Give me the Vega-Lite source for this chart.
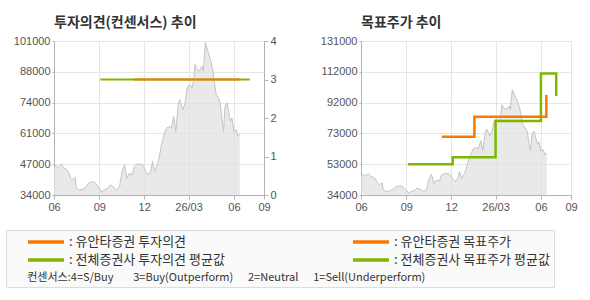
{
  "$schema": "https://vega.github.io/schema/vega-lite/v6.json",
  "padding": {"left": 5, "top": 15, "right": 5, "bottom": 2},
  "datasets": {
    "price": [
      {"date": "2025-06-01", "price": 45650}, {"date": "2025-06-04", "price": 47100}, {"date": "2025-06-08", "price": 45900},
      {"date": "2025-06-11", "price": 46400}, {"date": "2025-06-16", "price": 47400}, {"date": "2025-06-21", "price": 45650},
      {"date": "2025-06-28", "price": 44900}, {"date": "2025-07-05", "price": 41300}, {"date": "2025-07-08", "price": 40550},
      {"date": "2025-07-14", "price": 41600}, {"date": "2025-07-16", "price": 37200}, {"date": "2025-07-22", "price": 36200},
      {"date": "2025-07-29", "price": 36500}, {"date": "2025-08-04", "price": 37200}, {"date": "2025-08-10", "price": 39100},
      {"date": "2025-08-18", "price": 39800}, {"date": "2025-08-23", "price": 39500}, {"date": "2025-08-28", "price": 38100},
      {"date": "2025-09-02", "price": 36600}, {"date": "2025-09-06", "price": 35200}, {"date": "2025-09-11", "price": 36200},
      {"date": "2025-09-18", "price": 36900}, {"date": "2025-09-23", "price": 38400}, {"date": "2025-09-29", "price": 37600},
      {"date": "2025-10-06", "price": 36200}, {"date": "2025-10-12", "price": 37600}, {"date": "2025-10-17", "price": 44200},
      {"date": "2025-10-22", "price": 47100}, {"date": "2025-10-27", "price": 41300}, {"date": "2025-11-01", "price": 43500},
      {"date": "2025-11-07", "price": 42700}, {"date": "2025-11-11", "price": 46400}, {"date": "2025-11-16", "price": 47400},
      {"date": "2025-11-22", "price": 47500}, {"date": "2025-11-28", "price": 47100}, {"date": "2025-12-04", "price": 44200},
      {"date": "2025-12-09", "price": 42700}, {"date": "2025-12-14", "price": 44200}, {"date": "2025-12-18", "price": 48600},
      {"date": "2025-12-22", "price": 44200}, {"date": "2025-12-27", "price": 47100}, {"date": "2025-12-31", "price": 50000},
      {"date": "2026-01-05", "price": 55800}, {"date": "2026-01-10", "price": 60200}, {"date": "2026-01-15", "price": 63100},
      {"date": "2026-01-21", "price": 63900}, {"date": "2026-01-25", "price": 63100}, {"date": "2026-01-30", "price": 68200},
      {"date": "2026-02-03", "price": 61700}, {"date": "2026-02-08", "price": 73300}, {"date": "2026-02-11", "price": 75500},
      {"date": "2026-02-17", "price": 71100}, {"date": "2026-02-22", "price": 74100}, {"date": "2026-02-26", "price": 80600},
      {"date": "2026-03-03", "price": 82100}, {"date": "2026-03-08", "price": 80600}, {"date": "2026-03-11", "price": 83500},
      {"date": "2026-03-14", "price": 90800}, {"date": "2026-03-18", "price": 88600}, {"date": "2026-03-23", "price": 87900},
      {"date": "2026-03-28", "price": 90100}, {"date": "2026-03-31", "price": 87900}, {"date": "2026-04-04", "price": 100300},
      {"date": "2026-04-07", "price": 98100}, {"date": "2026-04-10", "price": 95900}, {"date": "2026-04-15", "price": 92300},
      {"date": "2026-04-19", "price": 88600}, {"date": "2026-04-22", "price": 83500}, {"date": "2026-04-26", "price": 77700},
      {"date": "2026-05-01", "price": 76200}, {"date": "2026-05-04", "price": 74100}, {"date": "2026-05-07", "price": 68200},
      {"date": "2026-05-11", "price": 61700}, {"date": "2026-05-14", "price": 72600}, {"date": "2026-05-18", "price": 74100},
      {"date": "2026-05-21", "price": 70400}, {"date": "2026-05-25", "price": 66000}, {"date": "2026-05-28", "price": 67500},
      {"date": "2026-06-01", "price": 61700}, {"date": "2026-06-06", "price": 62400}, {"date": "2026-06-09", "price": 59500},
      {"date": "2026-06-13", "price": 60200}
    ],
    "opinion": [
      {"series": ": 전체증권사 투자의견 평균값", "date": "2025-09-03", "value": 3},
      {"series": ": 전체증권사 투자의견 평균값", "date": "2026-07-03", "value": 3},
      {"series": ": 유안타증권 투자의견", "date": "2025-11-11", "value": 3},
      {"series": ": 유안타증권 투자의견", "date": "2026-06-13", "value": 3}
    ],
    "target": [
      {"series": ": 전체증권사 목표주가 평균값", "date": "2025-09-04", "value": 53300},
      {"series": ": 전체증권사 목표주가 평균값", "date": "2025-12-04", "value": 57700},
      {"series": ": 전체증권사 목표주가 평균값", "date": "2026-03-01", "value": 80600},
      {"series": ": 전체증권사 목표주가 평균값", "date": "2026-06-01", "value": 110600},
      {"series": ": 전체증권사 목표주가 평균값", "date": "2026-07-02", "value": 96400},
      {"series": ": 유안타증권 목표주가", "date": "2025-11-12", "value": 70700},
      {"series": ": 유안타증권 목표주가", "date": "2026-01-17", "value": 83300},
      {"series": ": 유안타증권 목표주가", "date": "2026-06-12", "value": 97000}
    ]
  },
  "config": {
    "view": {"stroke": "#b4b4b4", "strokeWidth": 1},
    "axis": {
      "labelFont": "Liberation Sans", "labelFontSize": 11, "labelColor": "#555555",
      "domainColor": "#b4b4b4", "tickColor": "#b4b4b4", "gridColor": "#e6e6e6",
      "tickSize": 4, "labelPadding": 2
    },
    "axisLeft": {"tickSize": 2, "labelPadding": 2},
    "title": {"font": "Noto Sans CJK KR", "fontSize": 14, "fontWeight": "bold", "anchor": "start", "frame": "group", "color": "#333333", "offset": 5},
    "legend": {
      "columns": 2,
      "columnPadding": 110,
      "gridAlign": "all",
      "symbolType": "M-1,0H5",
      "symbolSize": 144,
      "symbolStrokeWidth": 3.5,
      "symbolOffset": 16,
      "labelFont": "Noto Sans CJK KR", "labelFontSize": 13, "labelColor": "#333333", "labelOffset": 27, "labelLimit": 320,
      "labelExpr": "datum.label + '\u00a0\u00a0\u00a0\u200b'",
      "fillColor": "#fafafa", "strokeColor": "#dddddd",
      "padding": 4,
      "rowPadding": 3,
      "titleOrient": "bottom", "titleFont": "Noto Sans CJK KR", "titleFontWeight": "normal", "titleFontSize": 11,
      "titleColor": "#333333", "titlePadding": 5, "titleLimit": 600
    }
  },
  "spacing": 42,
  "hconcat": [
    {
      "title": "투자의견(컨센서스) 추이",
      "width": 210, "height": 154,
      "layer": [
        {
          "data": {"name": "price"},
          "mark": {"type": "area", "clip": true, "color": "#e0e0e0", "line": {"color": "#c4c4c4", "strokeWidth": 1}},
          "encoding": {
            "x": {"field": "date", "type": "temporal",
              "scale": {"domain": [{"year": 2025, "month": 6, "date": 1}, {"year": 2026, "month": 8, "date": 1}]},
              "axis": {"title": null, "grid": true,
                "values": [{"year": 2025, "month": 6, "date": 1}, {"year": 2025, "month": 9, "date": 1}, {"year": 2025, "month": 12, "date": 1}, {"year": 2026, "month": 3, "date": 1}, {"year": 2026, "month": 6, "date": 1}, {"year": 2026, "month": 8, "date": 1}],
                "labelExpr": "month(datum.value) == 2 ? '26/03' : (month(datum.value) == 7 ? '09' : timeFormat(datum.value, '%m'))",
                "labelFlush": false}},
            "y": {"field": "price", "type": "quantitative",
              "scale": {"domain": [34000, 101000], "nice": false, "zero": false},
              "axis": {"title": null, "grid": true, "values": [34000, 47400, 60800, 74200, 87600, 101000],
                "labelExpr": "format(round(datum.value / 1000) * 1000, 'd')"}}
          }
        },
        {
          "data": {"name": "opinion"},
          "mark": {"type": "line", "strokeWidth": 2},
          "encoding": {
            "x": {"field": "date", "type": "temporal",
              "scale": {"domain": [{"year": 2025, "month": 6, "date": 1}, {"year": 2026, "month": 8, "date": 1}]}},
            "y": {"field": "value", "type": "quantitative",
              "scale": {"domain": [0, 4], "nice": false},
              "axis": {"title": null, "orient": "right", "grid": false, "values": [0, 1, 2, 3, 4]}},
            "color": {"field": "series", "type": "nominal",
              "scale": {"domain": [": 유안타증권 투자의견", ": 전체증권사 투자의견 평균값", ": 유안타증권 목표주가", ": 전체증권사 목표주가 평균값"],
                "range": ["#fa7800", "#7cb800", "#fa7800", "#7cb800"]},
              "legend": {"orient": "none", "legendX": -48, "legendY": 189,
                "title": "\u200b\u00a0\u00a0\u00a0\u00a0\u00a0\u00a0\u00a0컨센서스:4=S/Buy\u00a0\u00a0\u00a0\u00a0\u00a0\u00a0\u00a0\u00a03=Buy(Outperform)\u00a0\u00a0\u00a0\u00a0\u00a0\u00a02=Neutral\u00a0\u00a0\u00a0\u00a0\u00a0\u00a01=Sell(Underperform)"}}
          }
        }
      ],
      "resolve": {"scale": {"y": "independent"}}
    },
    {
      "title": "목표주가 추이",
      "width": 210, "height": 154,
      "layer": [
        {
          "data": {"name": "price"},
          "mark": {"type": "area", "clip": true, "color": "#e0e0e0", "line": {"color": "#c4c4c4", "strokeWidth": 1}},
          "encoding": {
            "x": {"field": "date", "type": "temporal",
              "scale": {"domain": [{"year": 2025, "month": 6, "date": 1}, {"year": 2026, "month": 8, "date": 1}]},
              "axis": {"title": null, "grid": true,
                "values": [{"year": 2025, "month": 6, "date": 1}, {"year": 2025, "month": 9, "date": 1}, {"year": 2025, "month": 12, "date": 1}, {"year": 2026, "month": 3, "date": 1}, {"year": 2026, "month": 6, "date": 1}, {"year": 2026, "month": 8, "date": 1}],
                "labelExpr": "month(datum.value) == 2 ? '26/03' : (month(datum.value) == 7 ? '09' : timeFormat(datum.value, '%m'))",
                "labelFlush": false}},
            "y": {"field": "price", "type": "quantitative",
              "scale": {"domain": [34000, 131000], "nice": false, "zero": false},
              "axis": {"title": null, "grid": true, "values": [34000, 53400, 72800, 92200, 111600, 131000],
                "labelExpr": "format(round(datum.value / 1000) * 1000, 'd')"}}
          }
        },
        {
          "data": {"name": "target"},
          "mark": {"type": "line", "strokeWidth": 2.5, "interpolate": "step-after"},
          "encoding": {
            "x": {"field": "date", "type": "temporal",
              "scale": {"domain": [{"year": 2025, "month": 6, "date": 1}, {"year": 2026, "month": 8, "date": 1}]}},
            "y": {"field": "value", "type": "quantitative",
              "scale": {"domain": [34000, 131000], "nice": false, "zero": false},
              "axis": {"title": null, "grid": true, "values": [34000, 53400, 72800, 92200, 111600, 131000],
                "labelExpr": "format(round(datum.value / 1000) * 1000, 'd')"}},
            "color": {"field": "series", "type": "nominal",
              "scale": {"domain": [": 유안타증권 투자의견", ": 전체증권사 투자의견 평균값", ": 유안타증권 목표주가", ": 전체증권사 목표주가 평균값"],
                "range": ["#fa7800", "#7cb800", "#fa7800", "#7cb800"]},
              "legend": {"orient": "none", "legendX": -48, "legendY": 189,
                "title": "\u200b\u00a0\u00a0\u00a0\u00a0\u00a0\u00a0\u00a0컨센서스:4=S/Buy\u00a0\u00a0\u00a0\u00a0\u00a0\u00a0\u00a0\u00a03=Buy(Outperform)\u00a0\u00a0\u00a0\u00a0\u00a0\u00a02=Neutral\u00a0\u00a0\u00a0\u00a0\u00a0\u00a01=Sell(Underperform)"}}
          }
        }
      ]
    }
  ],
  "resolve": {"scale": {"color": "shared", "x": "independent", "y": "independent"}, "legend": {"color": "shared"}}
}
